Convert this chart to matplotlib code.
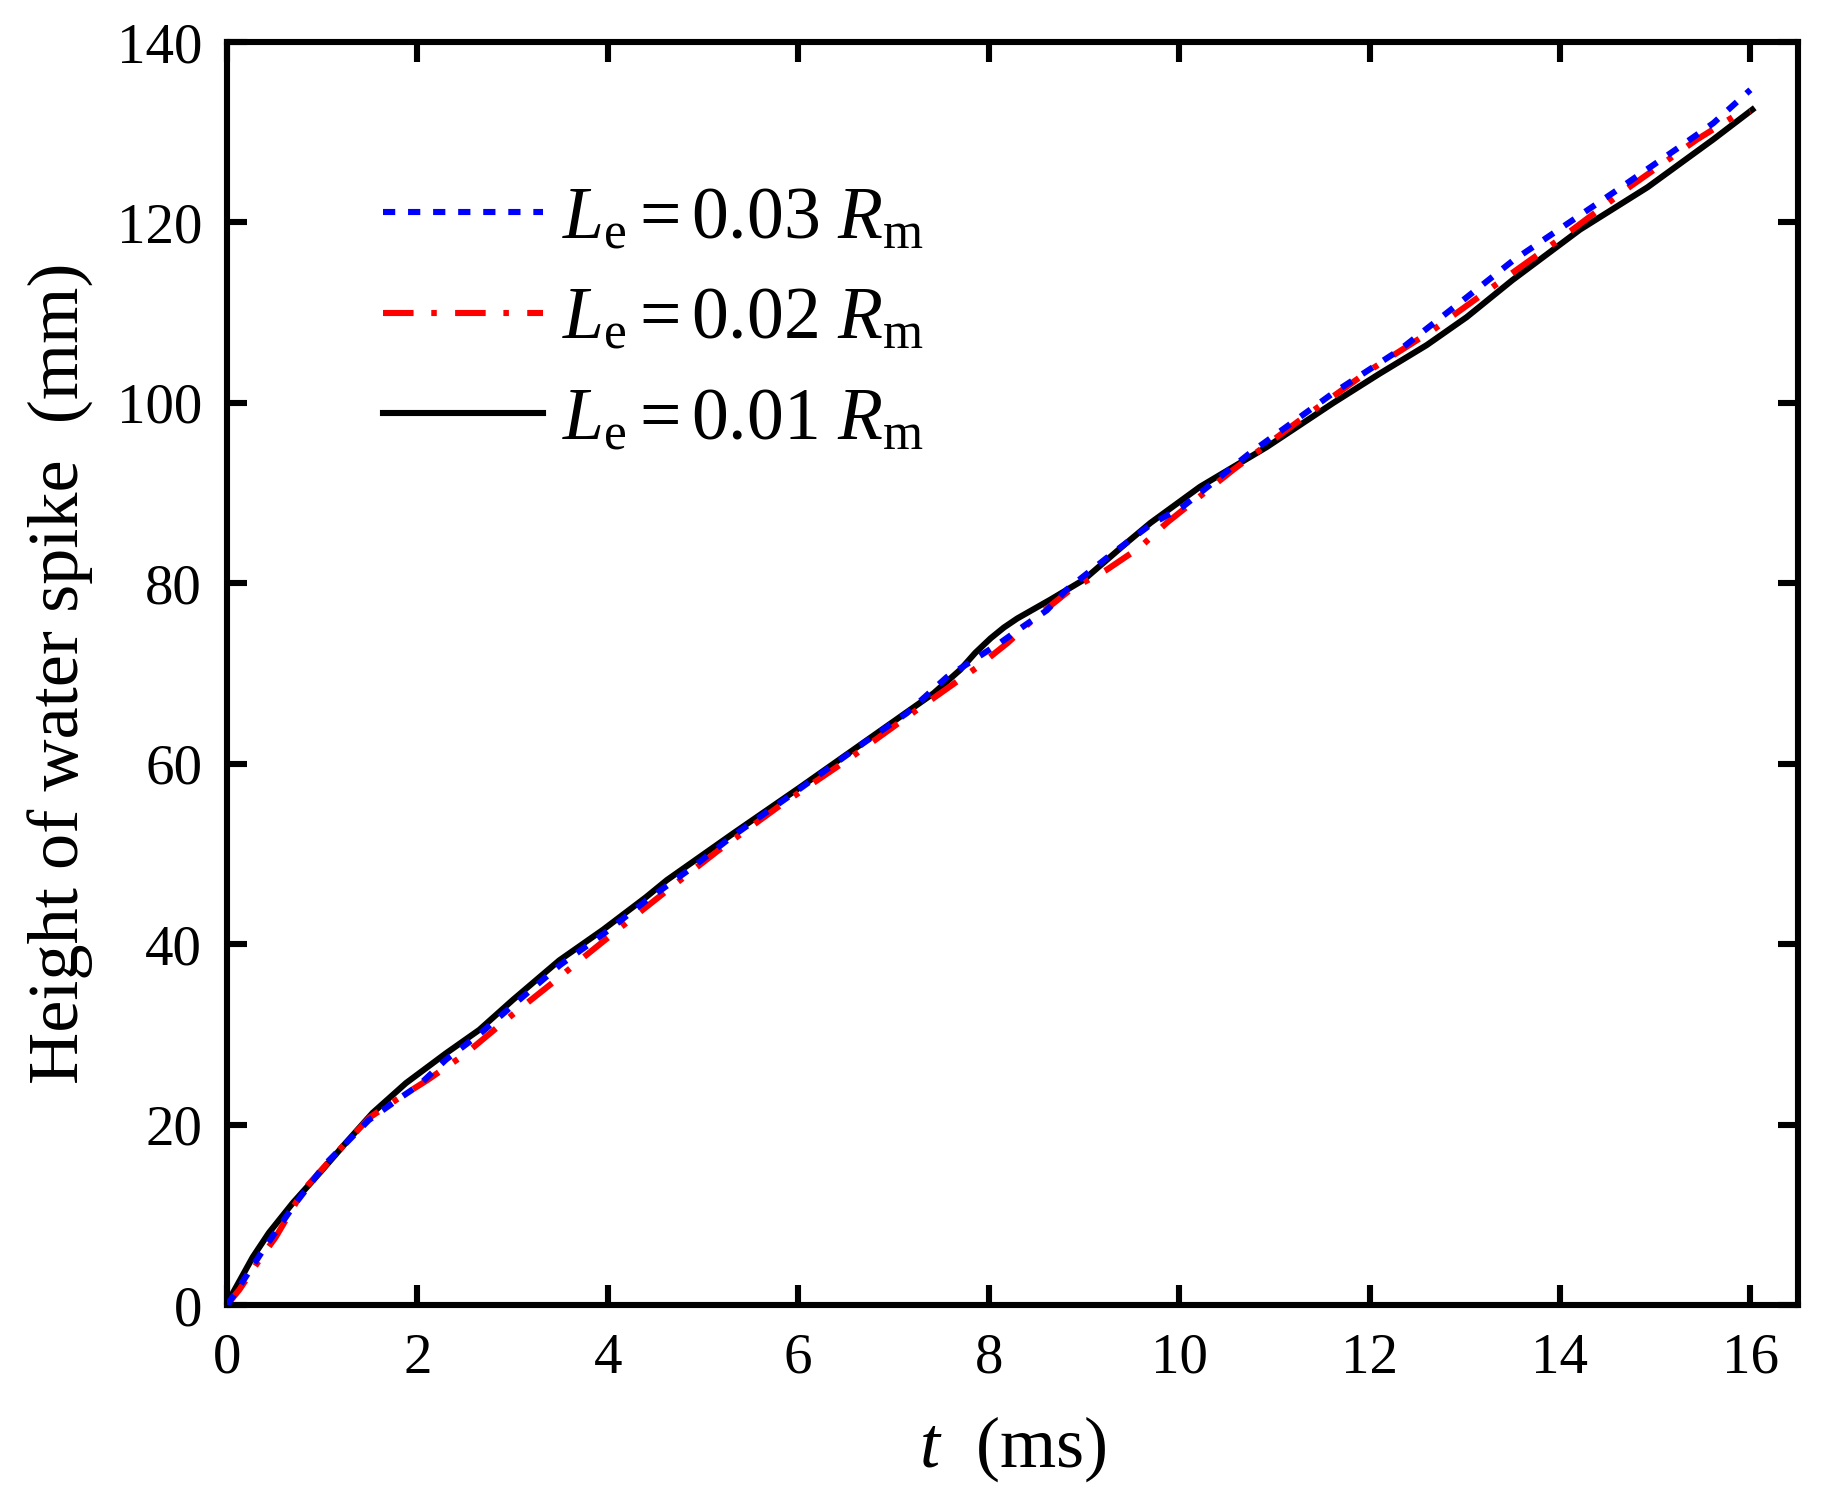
import matplotlib
matplotlib.use("Agg")
import matplotlib.pyplot as plt

# ---- data ----
t_03 = [0.0, 0.06, 0.38, 0.7, 1.04, 1.49, 1.81, 2.02, 2.3, 2.65, 3.0, 3.5, 3.95, 4.4, 4.9,
        5.3, 6.0, 6.7, 7.14, 7.56, 7.84, 8.12, 8.36, 8.61, 8.82, 9.31, 9.7, 10.04, 10.74,
        11.62, 12.32, 13.02, 13.51, 14.56, 15.26, 15.61, 16.0]
h_03 = [0.0, 0.9, 6.1, 11.0, 15.7, 20.5, 22.9, 24.4, 27.2, 30.0, 33.2, 37.7, 41.1, 44.8, 48.6,
        51.9, 57.1, 62.4, 65.6, 69.6, 71.5, 73.4, 75.2, 77.0, 79.3, 83.4, 86.5, 88.5, 94.4,
        101.1, 105.9, 111.7, 115.8, 123.3, 128.4, 131.0, 134.7]

t_02 = [0.0, 0.13, 0.34, 0.51, 0.8, 1.18, 1.5, 1.8, 2.1, 2.5, 3.0, 3.5, 3.74, 4.27, 4.7,
        5.15, 5.8, 6.54, 7.25, 7.88, 8.2, 8.47, 8.86, 9.24, 9.59, 9.87, 10.57, 11.27, 12.0,
        12.67, 13.3, 14.03, 14.74, 15.44, 15.82, 16.0]
h_02 = [0.0, 1.7, 5.0, 7.5, 12.7, 17.2, 20.8, 22.9, 24.9, 27.8, 32.2, 36.4, 38.5, 43.0, 46.6,
        50.3, 55.3, 60.6, 66.0, 70.7, 73.4, 76.0, 79.3, 81.5, 84.0, 86.7, 92.6, 98.1, 103.6,
        108.1, 112.9, 118.4, 124.0, 129.2, 131.7, 132.3]

t_01 = [0.0, 0.06, 0.27, 0.44, 0.69, 0.97, 1.25, 1.53, 1.88, 2.3, 2.65, 3.0, 3.49, 3.95,
        4.4, 4.62, 5.32, 6.02, 6.72, 7.07, 7.42, 7.7, 7.86, 8.02, 8.16, 8.3, 8.65, 9.0, 9.45,
        9.7, 10.22, 10.92, 11.62, 12.1, 12.6, 13.02, 13.5, 14.21, 14.92, 15.61, 16.02]
h_01 = [0.0, 1.3, 5.3, 8.0, 11.3, 14.6, 18.0, 21.3, 24.6, 27.9, 30.5, 33.8, 38.2, 41.6,
        45.2, 47.1, 52.3, 57.4, 62.6, 65.2, 67.8, 70.4, 72.3, 73.9, 75.1, 76.1, 78.2, 80.4, 84.5,
        86.7, 90.7, 95.1, 100.0, 103.2, 106.4, 109.5, 113.6, 119.2, 123.9, 129.2, 132.5]

labels = [r'$L_{\mathrm{e}} = 0.03\ R_{\mathrm{m}}$',
          r'$L_{\mathrm{e}} = 0.02\ R_{\mathrm{m}}$',
          r'$L_{\mathrm{e}} = 0.01\ R_{\mathrm{m}}$']
xticks = [0, 2, 4, 6, 8, 10, 12, 14, 16]
yticks = [0, 20, 40, 60, 80, 100, 120, 140]

# ---- style ----
plt.rcParams['font.family'] = ['Liberation Serif', 'DejaVu Serif']
plt.rcParams['mathtext.fontset'] = 'custom'
plt.rcParams['mathtext.rm'] = 'Liberation Serif'
plt.rcParams['mathtext.it'] = 'Liberation Serif:italic'
plt.rcParams['mathtext.bf'] = 'Liberation Serif:bold'

fig = plt.figure(figsize=(18.39, 15.10), dpi=100)
ax = fig.add_axes([227/1839, 1 - 1305/1510, (1798-227)/1839, (1305-42)/1510])

lw = 4.4
l3, = ax.plot(t_03, h_03, color='#0000ff', lw=lw, linestyle=(0, (2.0, 2.1)),
              dash_capstyle='butt', label=labels[0], zorder=3)
l2, = ax.plot(t_02, h_02, color='#ff0000', lw=lw, linestyle=(0, (5.0, 2.9, 0.9, 3.0)),
              dash_capstyle='butt', label=labels[1], zorder=2)
l1, = ax.plot(t_01, h_01, color='black', lw=lw, linestyle='-', label=labels[2], zorder=1)

ax.set_xlim(0, 16.5)
ax.set_ylim(0, 140)
ax.set_xticks(xticks)
ax.set_yticks(yticks)

for s in ax.spines.values():
    s.set_linewidth(4.4)
ax.tick_params(direction='in', length=14.5, width=4.4, top=True, right=True,
               labelsize=41)
ax.tick_params(axis='x', pad=20)
ax.tick_params(axis='y', pad=18)

ax.set_xlabel(r'$t$  (ms)', fontsize=52, labelpad=21)
ax.set_ylabel('Height of water spike  (mm)', fontsize=52, labelpad=16)

leg = ax.legend(handles=[l3, l2, l1], loc='upper left', bbox_to_anchor=(0.0804, 0.909),
                frameon=False, fontsize=53, handlelength=2.18, handletextpad=0.26,
                labelspacing=0.45, borderaxespad=0.0)

fig.savefig('out.png', dpi=100)
